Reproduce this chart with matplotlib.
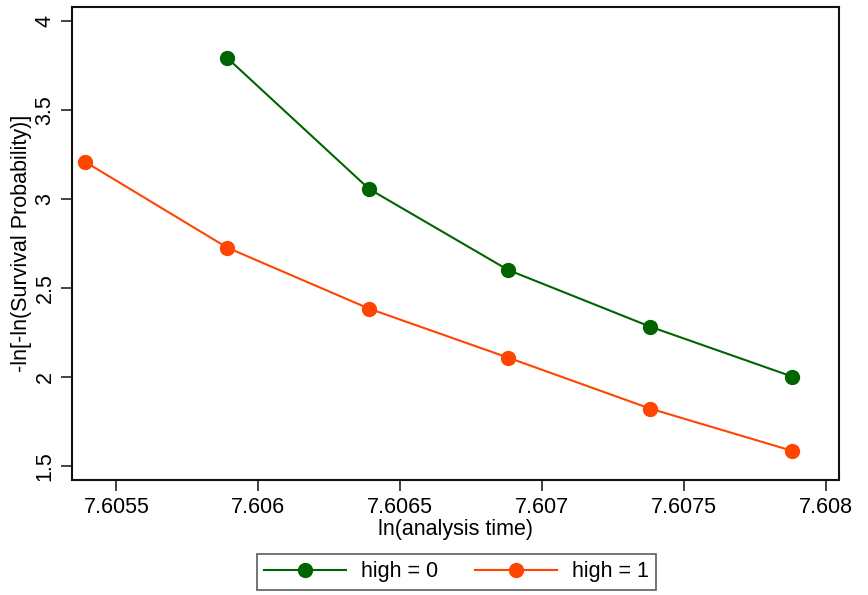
import matplotlib
matplotlib.use("Agg")
import matplotlib.pyplot as plt
from matplotlib.ticker import FixedLocator

plt.rcParams['font.family'] = ['Liberation Sans', 'DejaVu Sans']

x_high0 = [7.60589, 7.60639, 7.60688, 7.60738, 7.60788]
y_high0 = [3.792, 3.056, 2.601, 2.283, 2.003]
x_high1 = [7.60539, 7.60589, 7.60639, 7.60688, 7.60738, 7.60788]
y_high1 = [3.208, 2.727, 2.384, 2.109, 1.823, 1.586]

xticks = [7.6055, 7.606, 7.6065, 7.607, 7.6075, 7.608]
xticklabels = ["7.6055", "7.606", "7.6065", "7.607", "7.6075", "7.608"]
yticks = [1.5, 2, 2.5, 3, 3.5, 4]
yticklabels = ["1.5", "2", "2.5", "3", "3.5", "4"]

green = "#006400"
orange = "#FF4500"

fig = plt.figure(figsize=(8.68, 5.95), dpi=100)
ax = fig.add_axes([0.0833, 0.193, 0.8836, 0.7947])

ax.plot(x_high0, y_high0, color=green, lw=1.5, marker='o', ms=10, label="high = 0")
ax.plot(x_high1, y_high1, color=orange, lw=1.5, marker='o', ms=10, label="high = 1")

ax.set_xlim(7.605345, 7.608046)
ax.set_ylim(1.4214, 4.0752)
ax.xaxis.set_major_locator(FixedLocator(xticks))
ax.set_xticklabels(xticklabels, fontsize=15.5)
ax.yaxis.set_major_locator(FixedLocator(yticks))
ax.set_yticklabels(yticklabels, fontsize=15.5, rotation=90, va='center')
ax.tick_params(axis='both', length=8, width=1.2, color='#222222', pad=4)
ax.set_xlabel("ln(analysis time)", fontsize=15.5, labelpad=1)
ax.set_ylabel("-ln[-ln(Survival Probability)]", fontsize=15.5, labelpad=2)
for s in ax.spines.values():
    s.set_linewidth(1.5)
    s.set_color('#111111')

leg = fig.legend(loc='center', bbox_to_anchor=(0.526, 0.039), ncol=2,
                 fontsize=15.5, frameon=True, fancybox=False, edgecolor='#333333',
                 handlelength=3.8, columnspacing=1.7, handletextpad=0.7,
                 borderpad=0.35)
leg.get_frame().set_linewidth(1.2)

fig.savefig("out.png", dpi=100)
